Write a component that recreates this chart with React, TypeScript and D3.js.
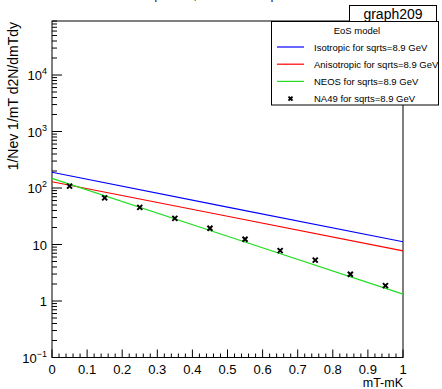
import React, { useRef, useEffect } from 'react';
import * as d3 from 'd3';

// measured NA49 points (mT-mK, yield)
const dataX = [0.05, 0.15, 0.25, 0.35, 0.45, 0.55, 0.65, 0.75, 0.85, 0.95];
const dataY = [108, 67, 45.5, 29, 19.4, 12.4, 7.8, 5.3, 2.97, 1.87];

// model curves read at mT-mK = 0, 0.5, 1
const modelX = [0, 0.5, 1];
const isoY = [190, 46, 11.2];
const anisoY = [129, 31.6, 7.7];
const neosY = [148, 14, 1.32];

const xTicks = [0, 0.1, 0.2, 0.3, 0.4, 0.5, 0.6, 0.7, 0.8, 0.9, 1];
const yDecades = [-1, 0, 1, 2, 3, 4];

const legendRows = [
  { label: 'Isotropic for sqrts=8.9 GeV', color: '#0000ff', kind: 'line' },
  { label: 'Anisotropic for sqrts=8.9 GeV', color: '#ff0000', kind: 'line' },
  { label: 'NEOS for sqrts=8.9 GeV', color: '#22dd22', kind: 'line' },
  { label: 'NA49 for sqrts=8.9 GeV', color: '#000000', kind: 'marker' },
];

const W = 442;
const H = 389;
const margin = { top: 21, right: 39, bottom: 31.5, left: 52 };

const App = () => {
  const svgRef = useRef(null);

  useEffect(() => {
    const svg = d3.select(svgRef.current);
    svg.selectAll('*').remove();
    const font = 'Liberation Sans, Arial, sans-serif';

    const x = d3.scaleLinear().domain([0, 1]).range([margin.left, W - margin.right]);
    const y = d3.scaleLog().domain([0.1, 9.04e4]).range([H - margin.bottom, margin.top]);

    // title (mostly outside the canvas)
    svg.append('text')
      .attr('x', 232).attr('y', -1)
      .attr('text-anchor', 'middle')
      .attr('font-family', font).attr('font-size', 14).attr('fill', '#333')
      .text('Pion spectra, Au-Au at sqrts=8.9 GeV');

    // frame
    svg.append('rect')
      .attr('x', x(0)).attr('y', y(9.04e4))
      .attr('width', x(1) - x(0)).attr('height', y(0.1) - y(9.04e4))
      .attr('fill', 'none').attr('stroke', '#000').attr('stroke-width', 1);

    // x ticks
    const xAxis = svg.append('g').attr('stroke', '#000').attr('stroke-width', 1);
    for (let i = 0; i <= 50; i++) {
      const v = i / 50;
      const len = i % 5 === 0 ? 8 : 4;
      xAxis.append('line')
        .attr('x1', x(v)).attr('x2', x(v))
        .attr('y1', y(0.1)).attr('y2', y(0.1) - len);
    }
    svg.append('g').selectAll('text').data(xTicks).enter().append('text')
      .attr('x', d => x(d)).attr('y', 374)
      .attr('text-anchor', 'middle')
      .attr('font-family', font).attr('font-size', 13)
      .text(d => String(d));
    svg.append('text')
      .attr('x', x(1)).attr('y', 386.5)
      .attr('text-anchor', 'end')
      .attr('font-family', font).attr('font-size', 12.5)
      .text('mT-mK');

    // y ticks
    const yAxis = svg.append('g').attr('stroke', '#000').attr('stroke-width', 1);
    for (let e = -1; e <= 4; e++) {
      for (let m = 1; m <= 9; m++) {
        const v = m * Math.pow(10, e);
        if (v > 9.04e4) continue;
        const len = m === 1 ? 10 : 5;
        yAxis.append('line')
          .attr('x1', x(0)).attr('x2', x(0) + len)
          .attr('y1', y(v)).attr('y2', y(v));
      }
    }
    const yl = svg.append('g');
    yDecades.forEach(e => {
      const t = yl.append('text')
        .attr('x', 47).attr('y', y(Math.pow(10, e)) + 5)
        .attr('text-anchor', 'end')
        .attr('font-family', font).attr('font-size', 13);
      if (e === 0) t.text('1');
      else if (e === 1) t.text('10');
      else {
        t.append('tspan').text('10');
        t.append('tspan').attr('dy', -6).attr('font-size', 9).text(String(e).replace('-', '\u2212'));
      }
    });
    svg.append('text')
      .attr('transform', `translate(18,${margin.top + 1}) rotate(-90)`)
      .attr('text-anchor', 'end')
      .attr('font-family', font).attr('font-size', 14)
      .text('1/Nev 1/mT d2N/dmTdy');

    // model lines
    const line = d3.line().x(d => x(d[0])).y(d => y(d[1]));
    [isoY, anisoY, neosY].forEach((ys, i) => {
      svg.append('path')
        .datum(modelX.map((v, j) => [v, ys[j]]))
        .attr('d', line)
        .attr('fill', 'none')
        .attr('stroke', legendRows[i].color)
        .attr('stroke-width', 1.2);
    });

    // markers
    const cross = (cx, cy, s) => `M${cx - s},${cy - s}L${cx + s},${cy + s}M${cx - s},${cy + s}L${cx + s},${cy - s}`;
    svg.append('g').selectAll('path').data(dataX).enter().append('path')
      .attr('d', (d, i) => cross(x(d), y(dataY[i]), 2.5))
      .attr('stroke', '#000').attr('stroke-width', 2).attr('fill', 'none');

    // legend
    const lg = svg.append('g');
    lg.append('rect')
      .attr('x', 271.5).attr('y', 21.5).attr('width', 167).attr('height', 83.5)
      .attr('fill', '#fff').attr('stroke', '#000').attr('stroke-width', 1);
    lg.append('text')
      .attr('x', 357).attr('y', 34)
      .attr('text-anchor', 'middle')
      .attr('font-family', font).attr('font-size', 9.5)
      .text('EoS model');
    legendRows.forEach((r, i) => {
      const ry = 47 + i * 17.2;
      if (r.kind === 'line') {
        lg.append('line')
          .attr('x1', 277).attr('x2', 304).attr('y1', ry).attr('y2', ry)
          .attr('stroke', r.color).attr('stroke-width', 1.2);
      } else {
        lg.append('path').attr('d', cross(290.5, ry, 2))
          .attr('stroke', '#000').attr('stroke-width', 2);
      }
      lg.append('text')
        .attr('x', 314).attr('y', ry + 3.5)
        .attr('font-family', font).attr('font-size', 9.5)
        .text(r.label);
    });

    // graph name box
    svg.append('rect')
      .attr('x', 349.5).attr('y', 5.5).attr('width', 87).attr('height', 16)
      .attr('fill', '#fff').attr('stroke', '#000').attr('stroke-width', 1);
    svg.append('text')
      .attr('x', 393).attr('y', 19)
      .attr('text-anchor', 'middle')
      .attr('font-family', font).attr('font-size', 14)
      .text('graph209');
  }, []);

  return (
    <svg ref={svgRef} width={W} height={H}
      style={{ position: 'absolute', left: 0, top: 0, background: '#fff' }} />
  );
};

export default App;
